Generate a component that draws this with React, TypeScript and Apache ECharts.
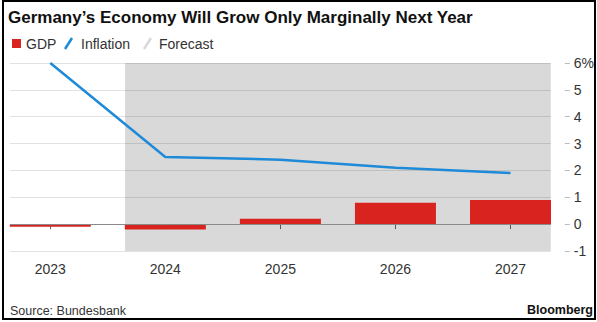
import React, { useEffect, useRef } from "react";
import * as echarts from "echarts";

const years = [2023, 2024, 2025, 2026, 2027];
const gdp = [-0.1, -0.2, 0.2, 0.8, 0.9];
const inflation = [6.0, 2.5, 2.4, 2.1, 1.9];
const forecastStart = 2024;
const yTicks = [-1, 0, 1, 2, 3, 4, 5, 6];

const FONT = "'Liberation Sans', Arial, Helvetica, sans-serif";

export default function App() {
  const ref = useRef<HTMLDivElement>(null);
  useEffect(() => {
    document.body.style.margin = "0";
    if (!ref.current) return;
    const chart = echarts.init(ref.current, undefined, { renderer: "svg" });
    const half = 0.35;
    chart.setOption({
      animation: false,
      textStyle: { fontFamily: FONT },
      grid: { left: 10, right: 44, top: 63, bottom: 71 },
      xAxis: {
        type: "value",
        min: years[0] - half,
        max: years[years.length - 1] + half,
        splitLine: { show: false },
        axisLine: { show: false },
        axisTick: {
          show: true,
          customValues: years,
          length: 5,
          lineStyle: { color: "#666", width: 1 },
        },
        axisLabel: {
          customValues: years,
          margin: 11,
          fontSize: 14,
          color: "#333",
          fontFamily: FONT,
          formatter: (v: number) => String(Math.round(v)),
        },
      },
      yAxis: {
        type: "value",
        position: "right",
        min: yTicks[0],
        max: yTicks[yTicks.length - 1],
        interval: 1,
        offset: 14,
        axisLine: { show: false },
        axisTick: { show: true, length: 5, lineStyle: { color: "#bbb" } },
        splitLine: {
          show: true,
          lineStyle: { color: "#e2e2e2", width: 1 },
        },
        axisLabel: {
          margin: 9,
          fontSize: 14,
          color: "#333",
          fontFamily: FONT,
          formatter: (v: number) => (v === 6 ? "6%" : String(v)),
        },
      },
      series: [
        {
          type: "bar",
          name: "GDP",
          data: years.map((y, i) => [y, gdp[i]]),
          barWidth: 81,
          itemStyle: { color: "#d8231e" },
          markArea: {
            silent: true,
            itemStyle: { color: "rgba(0,0,0,0.15)" },
            data: [
              [
                { xAxis: forecastStart - half, yAxis: yTicks[yTicks.length - 1] },
                { xAxis: years[years.length - 1] + half, yAxis: yTicks[0] },
              ],
            ],
          },
          markLine: {
            silent: true,
            symbol: "none",
            label: { show: false },
            lineStyle: { color: "#8a8a8a", width: 1, type: "solid" },
            data: [{ yAxis: 0 }],
          },
        },
        {
          type: "line",
          name: "Inflation",
          data: years.map((y, i) => [y, inflation[i]]),
          symbol: "none",
          lineStyle: { color: "#1f8ad8", width: 2.5 },
          z: 5,
        },
      ],
      graphic: [
        {
          type: "rect",
          shape: { x: 3, y: 1, width: 592, height: 318 },
          style: { fill: "none", stroke: "#000", lineWidth: 2 },
          silent: true,
        },
        {
          type: "text",
          x: 8,
          y: 17,
          style: {
            text: "Germany’s Economy Will Grow Only Marginally Next Year",
            font: `bold 17px ${FONT}`,
            fill: "#111",
            verticalAlign: "middle",
          },
        },
        {
          type: "rect",
          shape: { x: 12, y: 39, width: 9, height: 9 },
          style: { fill: "#d8231e" },
        },
        {
          type: "text",
          x: 26,
          y: 44,
          style: { text: "GDP", font: `14px ${FONT}`, fill: "#333", verticalAlign: "middle" },
        },
        {
          type: "line",
          shape: { x1: 65, y1: 49, x2: 72, y2: 38 },
          style: { stroke: "#1f8ad8", lineWidth: 2.5 },
        },
        {
          type: "text",
          x: 81,
          y: 44,
          style: { text: "Inflation", font: `14px ${FONT}`, fill: "#333", verticalAlign: "middle" },
        },
        {
          type: "line",
          shape: { x1: 144, y1: 49, x2: 151, y2: 38 },
          style: { stroke: "#d9d9d9", lineWidth: 2.5 },
        },
        {
          type: "text",
          x: 159,
          y: 44,
          style: { text: "Forecast", font: `14px ${FONT}`, fill: "#333", verticalAlign: "middle" },
        },
        {
          type: "text",
          x: 10,
          y: 311,
          style: { text: "Source: Bundesbank", font: `12.5px ${FONT}`, fill: "#333", verticalAlign: "middle" },
        },
        {
          type: "text",
          x: 593,
          y: 310,
          style: {
            text: "Bloomberg",
            font: `bold 12.5px ${FONT}`,
            fill: "#111",
            align: "right",
            verticalAlign: "middle",
          },
        },
      ],
    });
    return () => chart.dispose();
  }, []);
  return <div ref={ref} style={{ width: 597, height: 322 }} />;
}
